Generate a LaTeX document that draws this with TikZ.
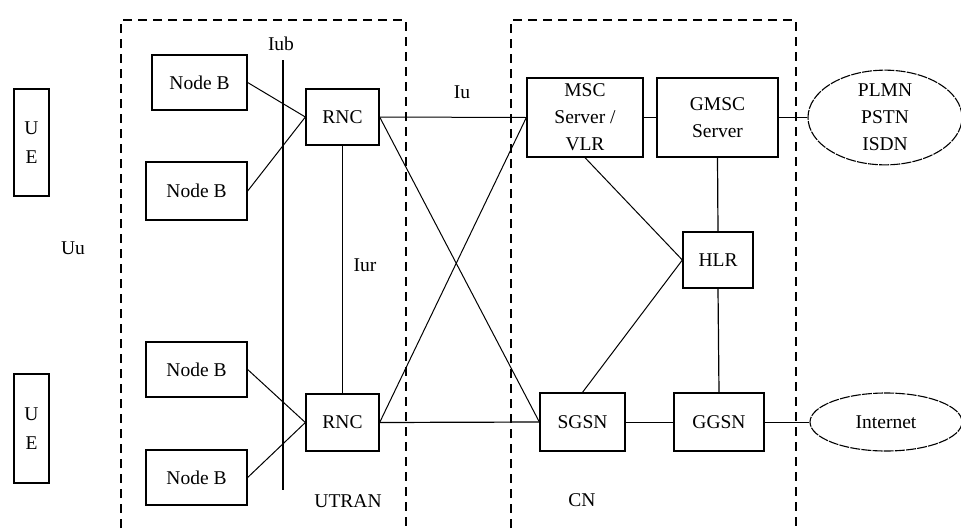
\documentclass[tikz,border=0pt]{standalone}
\usepackage{fontspec}
\setmainfont{Liberation Serif}
\usetikzlibrary{shapes.geometric}
\begin{document}
\begin{tikzpicture}[x=1pt,y=-1pt,
  box/.style={draw, line width=1.3pt, inner sep=0pt, font=\fontsize{19.5}{27}\selectfont, align=center},
  cloud/.style={draw, ellipse, dashed, dash pattern=on 10pt off 1.2pt, line width=1.1pt, inner sep=0pt, font=\fontsize{19.5}{27}\selectfont, align=center},
  lbl/.style={font=\fontsize{19.5}{22}\selectfont, inner sep=0pt},
  link/.style={line width=1pt},
  frame/.style={dashed, dash pattern=on 9pt off 6pt, line width=1.3pt}]
\useasboundingbox (0,0) rectangle (961,528);
\fill[white] (0,0) rectangle (961,528);
% frames
\draw[frame] (121,528) -- (121,20) -- (406,20) -- (406,528);
\draw[frame] (511,528) -- (511,20) -- (796,20) -- (796,528);
% UE
\node[box, minimum width=35pt, minimum height=107pt, font=\fontsize{19.5}{29}\selectfont] (ue1) at (31.5,142.5) {U\\E};
\node[box, minimum width=35pt, minimum height=109pt, font=\fontsize{19.5}{29}\selectfont] (ue2) at (31.5,428.5) {U\\E};
\node[lbl] (uu) at (73,248) {Uu};
% Node B
\node[box, minimum width=95pt, minimum height=55pt] (nb1) at (199.5,82.5) {Node B};
\node[box, minimum width=101pt, minimum height=58pt] (nb2) at (196.5,191) {Node B};
\node[box, minimum width=101pt, minimum height=55pt] (nb3) at (196.5,369.5) {Node B};
\node[box, minimum width=101pt, minimum height=55pt] (nb4) at (196.5,477.5) {Node B};
% Iub
\coordinate (iubT) at (283,60);
\coordinate (iubB) at (283,490);
\draw[line width=1.2pt] (iubT) -- (iubB);
\node[lbl] (iub) at (281,44) {Iub};
% RNC
\node[box, minimum width=73pt, minimum height=56pt] (rnc1) at (342.5,117) {RNC};
\node[box, minimum width=73pt, minimum height=57pt] (rnc2) at (342.5,422.5) {RNC};
\node[lbl] (iur) at (365,265) {Iur};
\node[lbl] (iu) at (462,92) {Iu};
% CN
\node[box, minimum width=116pt, minimum height=79pt] (msc) at (585,117.5) {MSC\\Server /\\VLR};
\node[box, minimum width=121pt, minimum height=79pt] (gmsc) at (717.5,117.5) {GMSC\\Server};
\node[box, minimum width=70pt, minimum height=56pt] (hlr) at (718,260) {HLR};
\node[box, minimum width=85pt, minimum height=58pt] (sgsn) at (582.5,422) {SGSN};
\node[box, minimum width=90pt, minimum height=58pt] (ggsn) at (719,422) {GGSN};
\node[cloud, minimum width=154pt, minimum height=85pt] (pstn) at (885,117.5) {PLMN\\PSTN\\ISDN};
\node[cloud, minimum width=152pt, minimum height=58pt] (inet) at (886,422) {Internet};
\node[lbl] (utran) at (348,501) {UTRAN};
\node[lbl] (cn) at (582,500) {CN};
% links
\draw[link] (nb1.east) -- (rnc1.west);
\draw[link] (nb2.east) -- (rnc1.west);
\draw[link] (nb3.east) -- (rnc2.west);
\draw[link] (nb4.east) -- (rnc2.west);
\draw[line width=1.2pt] (rnc1.south) -- (rnc2.north);
\draw[link] (rnc1.east) -- (msc.west);
\draw[link] (rnc1.east) -- (sgsn.west);
\draw[link] (rnc2.east) -- (msc.west);
\draw[line width=1.2pt] (rnc2.east) -- (sgsn.west);
\draw[link] (msc.east) -- (gmsc.west);
\draw[link] (gmsc.east) -- (pstn.west);
\draw[link] (msc.south) -- (hlr.west);
\draw[link] (sgsn.north) -- (hlr.west);
\draw[line width=1.2pt] (gmsc.south) -- (hlr.north);
\draw[line width=1.2pt] (hlr.south) -- (ggsn.north);
\draw[link] (sgsn.east) -- (ggsn.west);
\draw[link] (ggsn.east) -- (inet.west);
\end{tikzpicture}
\end{document}
